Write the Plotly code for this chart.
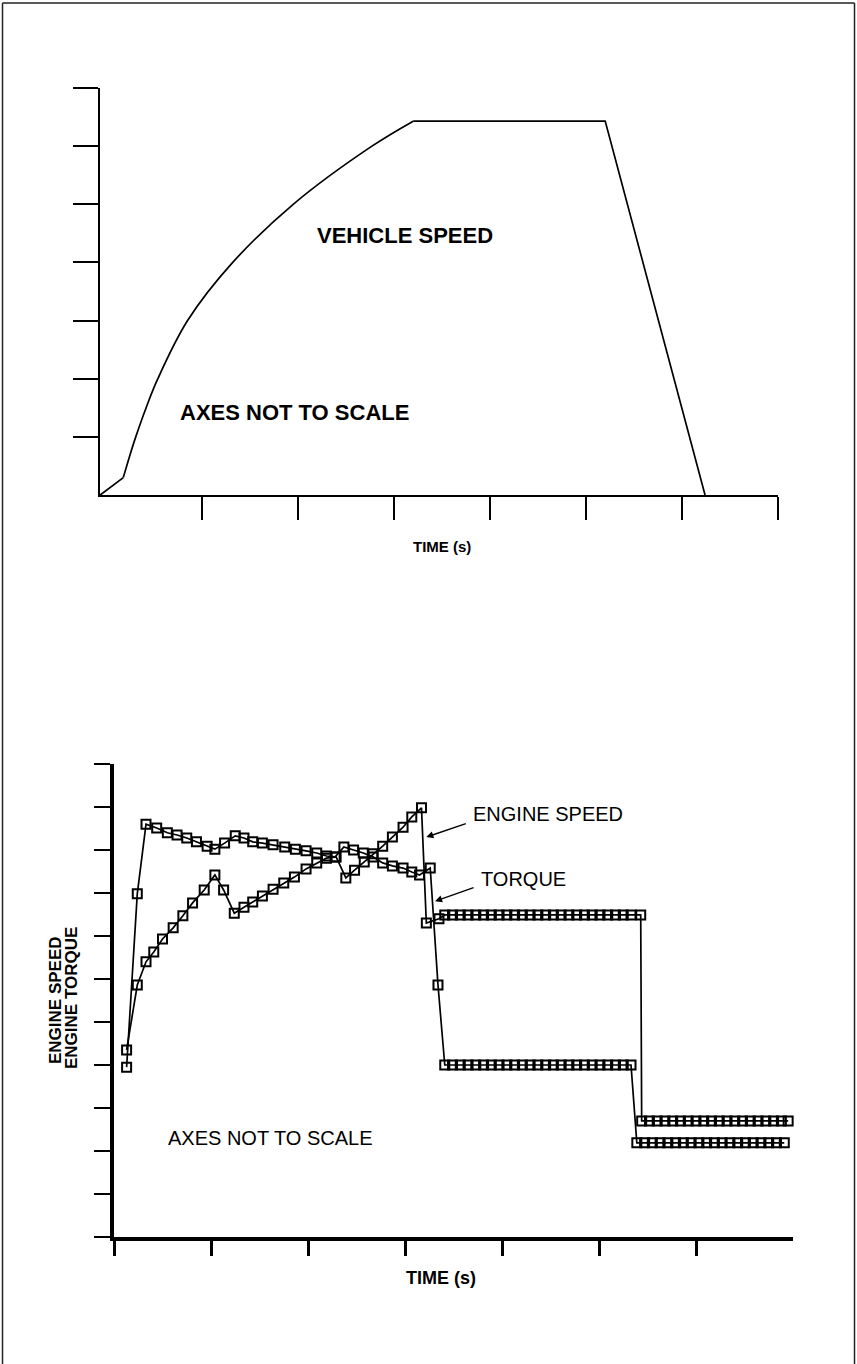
import plotly.graph_objects as go

W, H = 857, 1364

# ---------------- Data ----------------
# Top chart: vehicle speed (arbitrary units, axes not to scale)
veh_time = [-0.06, 0.18, 0.25, 0.31, 0.42, 0.54, 0.85, 1.32, 1.95, 2.77, 3.20, 5.20, 6.24]
veh_speed = [0.0, 0.30, 0.69, 1.00, 1.51, 2.00, 3.00, 4.00, 5.00, 6.00, 6.43, 6.43, 0.0]

# Bottom chart: engine speed and engine torque
eng_time = [0.13, 0.24, 0.33, 0.41, 0.50, 0.61, 0.71, 0.81, 0.93, 1.04, 1.13, 1.24, 1.34, 1.43, 1.53,
            1.64, 1.75, 1.86, 1.98, 2.09, 2.19, 2.29, 2.39, 2.48, 2.58, 2.67, 2.77, 2.87, 2.98, 3.07,
            3.17, 3.22, 3.35,
            3.41, 3.49, 3.57, 3.65, 3.73, 3.81, 3.89, 3.97, 4.05, 4.13, 4.21, 4.29, 4.37, 4.45, 4.53,
            4.61, 4.69, 4.77, 4.85, 4.93, 5.01, 5.09, 5.17, 5.25, 5.33, 5.43,
            5.44, 5.52, 5.60, 5.68, 5.76, 5.84, 5.92, 6.00, 6.08, 6.16, 6.24, 6.32, 6.40, 6.48, 6.56,
            6.64, 6.72, 6.80, 6.88, 6.95]
eng_speed = [4.35, 5.86, 6.40, 6.63, 6.93, 7.19, 7.47, 7.77, 8.07, 8.42, 8.07, 7.53, 7.67, 7.79, 7.93,
             8.09, 8.23, 8.37, 8.56, 8.70, 8.81, 8.84, 8.35, 8.53, 8.72, 8.91, 9.09, 9.30, 9.53, 9.77,
             9.98, 7.30, 7.40,
             7.49, 7.49, 7.49, 7.49, 7.49, 7.49, 7.49, 7.49, 7.49, 7.49, 7.49, 7.49, 7.49, 7.49, 7.49,
             7.49, 7.49, 7.49, 7.49, 7.49, 7.49, 7.49, 7.49, 7.49, 7.49, 7.49,
             2.70, 2.70, 2.70, 2.70, 2.70, 2.70, 2.70, 2.70, 2.70, 2.70, 2.70, 2.70, 2.70, 2.70, 2.70,
             2.70, 2.70, 2.70, 2.70, 2.70]

trq_time = [0.13, 0.24, 0.33, 0.44, 0.55, 0.65, 0.75, 0.85, 0.96, 1.04, 1.14, 1.25, 1.34, 1.43, 1.53,
            1.64, 1.76, 1.87, 1.98, 2.09, 2.19, 2.28, 2.37, 2.47, 2.57, 2.67, 2.77, 2.87, 2.98, 3.07,
            3.15, 3.26, 3.34,
            3.41, 3.49, 3.57, 3.65, 3.73, 3.81, 3.89, 3.97, 4.05, 4.13, 4.21, 4.29, 4.37, 4.45, 4.53,
            4.61, 4.69, 4.77, 4.85, 4.93, 5.01, 5.09, 5.17, 5.25, 5.33,
            5.39, 5.47, 5.55, 5.63, 5.71, 5.79, 5.87, 5.95, 6.03, 6.11, 6.19, 6.27, 6.35, 6.43, 6.51,
            6.59, 6.67, 6.75, 6.83, 6.91]
trq_val = [3.95, 7.98, 9.60, 9.51, 9.40, 9.35, 9.28, 9.19, 9.09, 9.02, 9.16, 9.33, 9.28, 9.19, 9.16,
           9.12, 9.07, 9.02, 8.98, 8.93, 8.86, 8.84, 9.07, 9.00, 8.93, 8.84, 8.70, 8.63, 8.58, 8.49,
           8.42, 8.58, 5.86,
           4.00, 4.00, 4.00, 4.00, 4.00, 4.00, 4.00, 4.00, 4.00, 4.00, 4.00, 4.00, 4.00, 4.00, 4.00,
           4.00, 4.00, 4.00, 4.00, 4.00, 4.00, 4.00, 4.00, 4.00, 4.00,
           2.19, 2.19, 2.19, 2.19, 2.19, 2.19, 2.19, 2.19, 2.19, 2.19, 2.19, 2.19, 2.19, 2.19, 2.19,
           2.19, 2.19, 2.19, 2.19, 2.19]

top_xticks = [1, 2, 3, 4, 5, 6, 7]
top_yticks = [1, 2, 3, 4, 5, 6, 7]
bot_xticks = [0, 1, 2, 3, 4, 5, 6]
bot_yticks = [0, 1, 2, 3, 4, 5, 6, 7, 8, 9, 10, 11]

FONT = "Liberation Sans, Arial, Helvetica, sans-serif"


def px(x):
    return x / W


def py(y):
    return 1 - y / H


fig = go.Figure()

# vehicle speed: straight start, smooth acceleration curve, straight plateau and deceleration
segments = [(0, 2, "linear"), (1, 11, "spline"), (10, 13, "linear")]
for a, b, shape in segments:
    fig.add_trace(go.Scatter(x=veh_time[a:b], y=veh_speed[a:b], mode="lines",
                             line=dict(color="black", width=1.7, shape=shape, smoothing=1.0),
                             xaxis="x", yaxis="y", showlegend=False, cliponaxis=False))

marker = dict(symbol="square-open", size=9, color="black", line=dict(width=2, color="black"))
fig.add_trace(go.Scatter(x=eng_time, y=eng_speed, mode="lines+markers",
                         line=dict(color="black", width=1.7), marker=marker,
                         xaxis="x2", yaxis="y2", showlegend=False, cliponaxis=False))
fig.add_trace(go.Scatter(x=trq_time, y=trq_val, mode="lines+markers",
                         line=dict(color="black", width=1.7), marker=marker,
                         xaxis="x2", yaxis="y2", showlegend=False, cliponaxis=False))

axis_common = dict(showgrid=False, zeroline=False, showticklabels=False,
                   showline=True, linecolor="black", ticks="outside", tickcolor="black")

fig.update_layout(
    width=W, height=H,
    margin=dict(l=0, r=0, t=0, b=0),
    paper_bgcolor="white", plot_bgcolor="white",
    font=dict(family=FONT, color="black"),
    xaxis=dict(domain=[px(100), px(778)], range=[-0.0625, 7], tickvals=top_xticks,
               ticklen=23, tickwidth=1.6, linewidth=2.2, anchor="y", **axis_common),
    yaxis=dict(domain=[py(495), py(88)], range=[0, 7], tickvals=top_yticks,
               ticklen=25, tickwidth=1.6, linewidth=2.2, anchor="x", **axis_common),
    xaxis2=dict(domain=[px(114), px(793)], range=[0, 7], tickvals=bot_xticks,
                ticklen=15, tickwidth=2.5, linewidth=3.5, anchor="y2", **axis_common),
    yaxis2=dict(domain=[py(1237), py(764)], range=[0, 11], tickvals=bot_yticks,
                ticklen=16, tickwidth=1.6, linewidth=3.5, anchor="x2", **axis_common),
)


def label(text, x, y, size, bold=True, angle=0):
    fig.add_annotation(x=px(x), y=py(y), xref="paper", yref="paper", text=text,
                       showarrow=False, xanchor="center", yanchor="middle", textangle=angle,
                       font=dict(family=FONT, size=size, color="black",
                                 weight="bold" if bold else "normal"))


label("VEHICLE SPEED", 405, 235, 22)
label("AXES NOT TO SCALE", 294, 413, 22)
label("TIME (s)", 442, 546, 15)

label("ENGINE SPEED", 548, 814, 20, bold=False)
label("TORQUE", 523, 879, 20, bold=False)
label("AXES NOT TO SCALE", 270, 1138, 20, bold=False)
label("TIME (s)", 441, 1278, 18)
label("ENGINE SPEED", 55, 1000, 17, angle=-90)
label("ENGINE TORQUE", 71, 998, 17, angle=-90)

# arrows pointing to the curves
for hx, hy, tx, ty in [(3.22, 9.30, 41, -14), (3.31, 7.81, 40, -14)]:
    fig.add_annotation(x=hx, y=hy, xref="x2", yref="y2", ax=tx, ay=ty, text="",
                       showarrow=True, arrowhead=2, arrowsize=1, arrowwidth=1.4,
                       arrowcolor="black")

# page frame
for x0, y0, x1, y1 in [(2.5, 3, 2.5, 1364), (2.5, 3, 854.5, 3), (854.5, 3, 854.5, 1364)]:
    fig.add_shape(type="line", xref="paper", yref="paper",
                  x0=px(x0), y0=py(y0), x1=px(x1), y1=py(y1),
                  line=dict(color="#222222", width=1.5))

fig.write_html("out.html")
